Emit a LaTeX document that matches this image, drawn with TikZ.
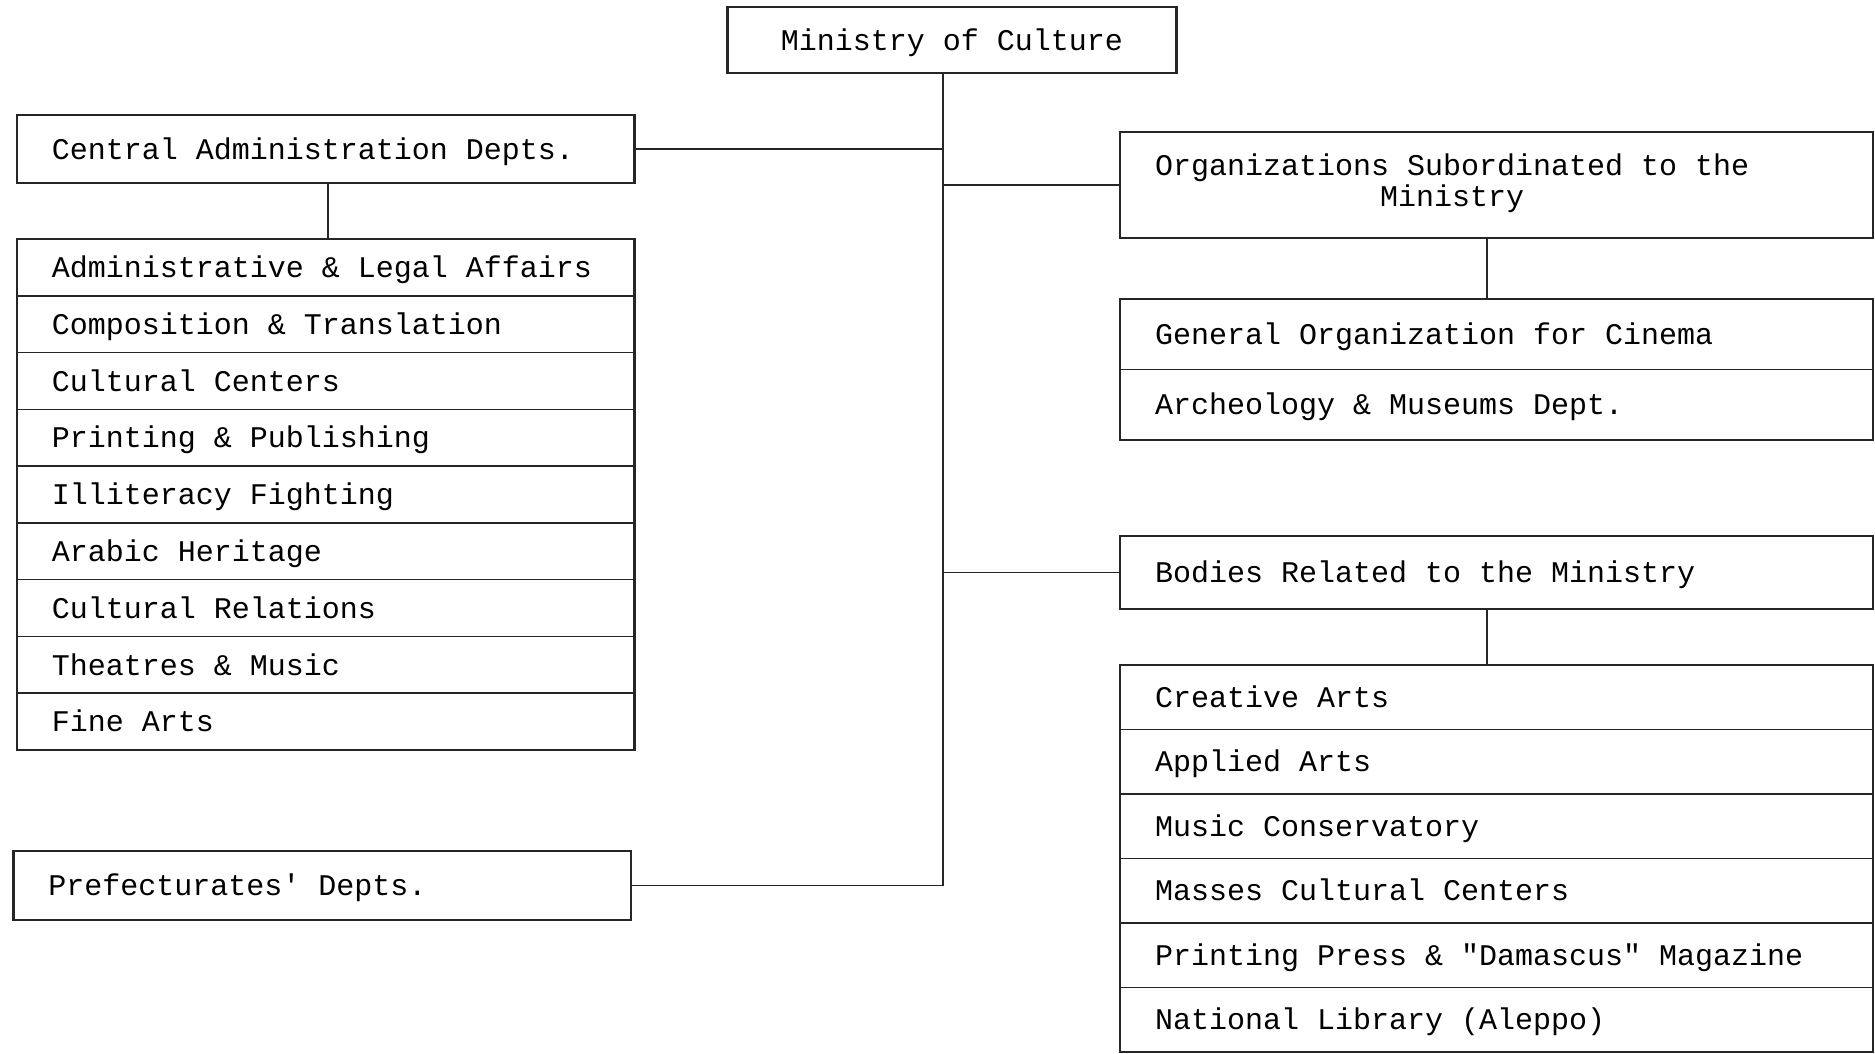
\documentclass[tikz,border=0pt]{standalone}
\usepackage{fontspec}
\newfontfamily\typew{Liberation Mono}
\usetikzlibrary{positioning}
\tikzset{
  orgbox/.style={draw=black!85, line width=1pt, fill=white, align=flush left,
    font=\typew\fontsize{12pt}{12.4pt}\selectfont, inner xsep=14pt, outer sep=0pt,
    execute at begin node={\spaceskip=0pt\xspaceskip=0pt}},
  oneline/.style={text height=9.6pt, text depth=1.4pt},
  leftw/.style={text width=219pt},
  rightw/.style={text width=273.2pt},
  listrow/.style={orgbox, oneline, line width=0.6pt},
  deprow/.style={listrow, leftw, minimum height=22.71pt},
  subrow/.style={listrow, rightw, minimum height=28.2pt},
  relrow/.style={listrow, rightw, minimum height=25.8pt},
  listframe/.style={line width=1pt, draw=black!85},
  orglink/.style={line width=0.6pt, black!85},
}

\begin{document}
\begin{tikzpicture}
  \useasboundingbox (0,0) rectangle (750pt,-421.6pt);
  \node[orgbox, oneline, align=center, minimum width=179.6pt, minimum height=26.4pt] (min) at (380.8pt,-16pt) {Ministry of Culture};
  \node[orgbox, oneline, leftw, minimum height=27.2pt] (cad) at (130.2pt,-59.6pt) {Central Administration Depts.};
  \node[orgbox, oneline, leftw, minimum height=27.6pt] (pre) at (128.8pt,-354.2pt) {Prefecturates' Depts.};
  \node[orgbox, rightw, minimum height=42.4pt] (org) at (598.6pt,-74pt) {\begin{tabular}{@{}c@{}}Organizations Subordinated to the\\Ministry\end{tabular}};
  \node[orgbox, oneline, rightw, minimum height=29.2pt] (bod) at (598.6pt,-229pt) {Bodies Related to the Ministry};
  % departments under each head
  \coordinate[below=22.4pt of cad] (l0);
  \foreach \t [count=\i] in {{Administrative \& Legal Affairs}, {Composition \& Translation}, {Cultural Centers}, {Printing \& Publishing}, {Illiteracy Fighting}, {Arabic Heritage}, {Cultural Relations}, {Theatres \& Music}, {Fine Arts}} {
    \pgfmathtruncatemacro\p{\i-1}
    \node[deprow, below=0pt of l\p] (l\i) {\t};
  }
  \coordinate[below=24.4pt of org] (g0);
  \foreach \t [count=\i] in {{General Organization for Cinema}, {Archeology \& Museums Dept.}} {
    \pgfmathtruncatemacro\p{\i-1}
    \node[subrow, below=0pt of g\p] (g\i) {\t};
  }
  \coordinate[below=22.4pt of bod] (b0);
  \foreach \t [count=\i] in {{Creative Arts}, {Applied Arts}, {Music Conservatory}, {Masses Cultural Centers}, {Printing Press \& "Damascus" Magazine}, {National Library (Aleppo)}} {
    \pgfmathtruncatemacro\p{\i-1}
    \node[relrow, below=0pt of b\p] (b\i) {\t};
  }
  \draw[listframe] (l1.north west) rectangle (l9.south east);
  \draw[listframe] (g1.north west) rectangle (g2.south east);
  \draw[listframe] (b1.north west) rectangle (b6.south east);
  % links
  \coordinate (trunk) at ([xshift=-3.6pt]min.south);
  \draw[orglink] (trunk) |- (pre.east);
  \foreach \n in {cad.east, org.west, bod.west} \draw[orglink] (\n) -- (\n -| trunk);
  \foreach \a/\b/\s in {cad/l1/1pt, org/g1/-3.8pt, bod/b1/-3.8pt} \draw[orglink] ([xshift=\s]\a.south) -- ([xshift=\s]\b.north);
\end{tikzpicture}
\end{document}
